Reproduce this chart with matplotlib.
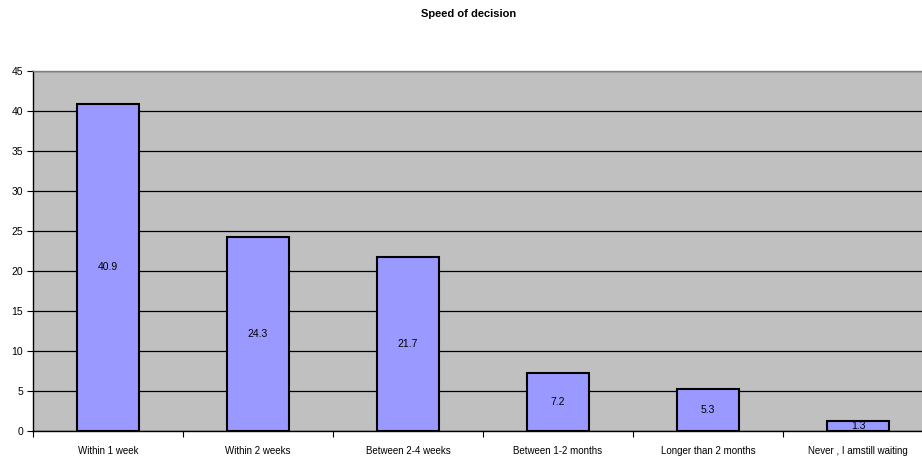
import matplotlib
matplotlib.use("Agg")
import matplotlib.pyplot as plt
import numpy as np

categories = ["Within 1 week", "Within 2 weeks", "Between 2-4 weeks",
              "Between 1-2 months", "Longer than 2 months", "Never , I amstill waiting"]
values = [40.9, 24.3, 21.7, 7.2, 5.3, 1.3]
yticks = [0, 5, 10, 15, 20, 25, 30, 35, 40, 45]
title = "Speed of decision"

plt.rcParams['font.family'] = ['Liberation Sans', 'DejaVu Sans']

W, H = 922, 461
fig = plt.figure(figsize=(W / 100, H / 100), dpi=100)
ax = fig.add_axes([33 / W, 30 / H, 900 / W, 360 / H])
ax.set_facecolor('#C0C0C0')

x = np.arange(len(categories))
ax.set_axisbelow(True)
ax.yaxis.grid(True, color='black', linewidth=0.9)
bars = ax.bar(x, values, width=0.41, color='#9999FF', edgecolor='black', linewidth=1.5, zorder=3)
for xi, v in zip(x, values):
    ax.text(xi, v / 2, f"{v}", ha='center', va='center', fontsize=7.5, zorder=4)

ax.set_xlim(-0.5, len(categories) - 0.5)
ax.set_ylim(0, 45)
ax.set_yticks(yticks)
ax.set_xticks(np.arange(len(categories) + 1) - 0.5, minor=False)
ax.set_xticklabels([])
ax.set_xticks(x, minor=True)
ax.set_xticklabels(categories, minor=True, fontsize=7)
ax.tick_params(axis='x', which='minor', length=0, pad=11)
ax.tick_params(axis='x', which='major', length=4, width=0.8, direction='out')
ax.tick_params(axis='y', length=4, width=0.8, direction='out', labelsize=7.5, pad=3)

for s in ['top', 'right']:
    ax.spines[s].set_color('#808080')
    ax.spines[s].set_linewidth(1)
for s in ['left', 'bottom']:
    ax.spines[s].set_color('black')
    ax.spines[s].set_linewidth(1)

fig.text(469 / W, 1 - 14 / H, title, ha='center', va='center', fontsize=8, fontweight='bold')

fig.savefig("out.png", dpi=100)
